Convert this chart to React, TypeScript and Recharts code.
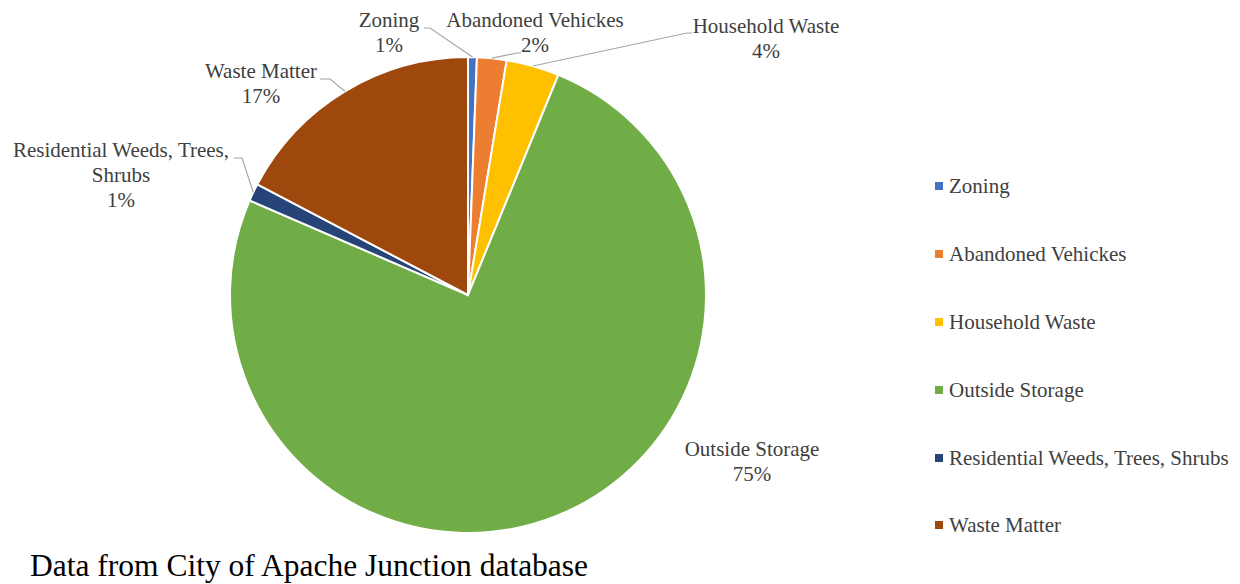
import React from 'react';
import { PieChart, Pie, Cell, Legend } from 'recharts';

const categories = [
  'Zoning',
  'Abandoned Vehickes',
  'Household Waste',
  'Outside Storage',
  'Residential Weeds, Trees, Shrubs',
  'Waste Matter',
];
const shares = [0.6, 2.0, 3.6, 75.3, 1.2, 17.3];
const colors = ['#4472C4', '#ED7D31', '#FFC000', '#70AD47', '#264478', '#9E480E'];

const data = categories.map((name, i) => ({ name, value: shares[i] }));

const FONT = '"Liberation Serif", "Times New Roman", serif';
const TEXT_COLOR = '#404040';
const LINE_COLOR = '#A6A6A6';
const RADIAN = Math.PI / 180;

// where each data label sits (first baseline) and the leader line elbow / end
const labelLayout: {
  x: number;
  y: number;
  lines?: string[];
  elbow?: [number, number];
  end?: [number, number];
}[] = [
  { x: 389, y: 27, elbow: [430, 28], end: [424, 28] },
  { x: 535, y: 27, elbow: [517, 53], end: [521, 53] },
  { x: 766, y: 33, elbow: [687, 33], end: [692, 33] },
  { x: 752, y: 456 },
  { x: 121, y: 157, lines: ['Residential Weeds, Trees,', 'Shrubs'], elbow: [242, 158], end: [234, 158] },
  { x: 261, y: 78, elbow: [330, 79], end: [320, 79] },
];

const renderLabel = (props: any) => {
  const { cx, cy, midAngle, outerRadius, percent, index, name } = props;
  const layout = labelLayout[index];
  const lines = layout.lines ?? [name];
  const pct = `${Math.round(percent * 100)}%`;
  const sx = cx + outerRadius * Math.cos(-midAngle * RADIAN);
  const sy = cy + outerRadius * Math.sin(-midAngle * RADIAN);
  return (
    <g key={`lbl-${index}`}>
      {layout.elbow && layout.end && (
        <polyline
          points={`${sx},${sy} ${layout.elbow[0]},${layout.elbow[1]} ${layout.end[0]},${layout.end[1]}`}
          fill="none"
          stroke={LINE_COLOR}
          strokeWidth={1.2}
        />
      )}
      <text x={layout.x} y={layout.y} textAnchor="middle" fill={TEXT_COLOR} fontFamily={FONT} fontSize={21}>
        {[...lines, pct].map((t, i) => (
          <tspan key={i} x={layout.x} dy={i === 0 ? 0 : 25}>
            {t}
          </tspan>
        ))}
      </text>
    </g>
  );
};

const renderLegend = () => (
  <div style={{ fontFamily: FONT, fontSize: 21, color: TEXT_COLOR }}>
    {categories.map((name, i) => (
      <div key={name} style={{ height: 67.9, display: 'flex', alignItems: 'flex-start' }}>
        <span
          style={{
            display: 'inline-block',
            width: 8,
            height: 8,
            background: colors[i],
            marginTop: 8,
            marginRight: 6,
          }}
        />
        <span style={{ lineHeight: '24px', whiteSpace: 'nowrap' }}>{name}</span>
      </div>
    ))}
  </div>
);

export default function App() {
  return (
    <div style={{ position: 'absolute', left: 0, top: 0, width: 1240, height: 584, background: '#fff' }}>
      <PieChart width={1240} height={584} margin={{ top: 0, right: 0, bottom: 0, left: 0 }}>
        <Pie
          data={data}
          dataKey="value"
          nameKey="name"
          cx={468}
          cy={295}
          outerRadius={238}
          startAngle={90}
          endAngle={-270}
          stroke="#fff"
          strokeWidth={2}
          label={renderLabel}
          labelLine={false}
          isAnimationActive={false}
        >
          {data.map((d, i) => (
            <Cell key={d.name} fill={colors[i]} />
          ))}
        </Pie>
        <Legend
          layout="vertical"
          align="right"
          verticalAlign="top"
          content={renderLegend}
          wrapperStyle={{ position: 'absolute', left: 935, top: 174, width: 300, height: 420 }}
        />
      </PieChart>
      <div
        style={{
          position: 'absolute',
          left: 30,
          top: 550,
          fontFamily: FONT,
          fontSize: 31.5,
          color: '#000',
          whiteSpace: 'nowrap',
          lineHeight: '31px',
        }}
      >
        Data from City of Apache Junction database
      </div>
    </div>
  );
}
